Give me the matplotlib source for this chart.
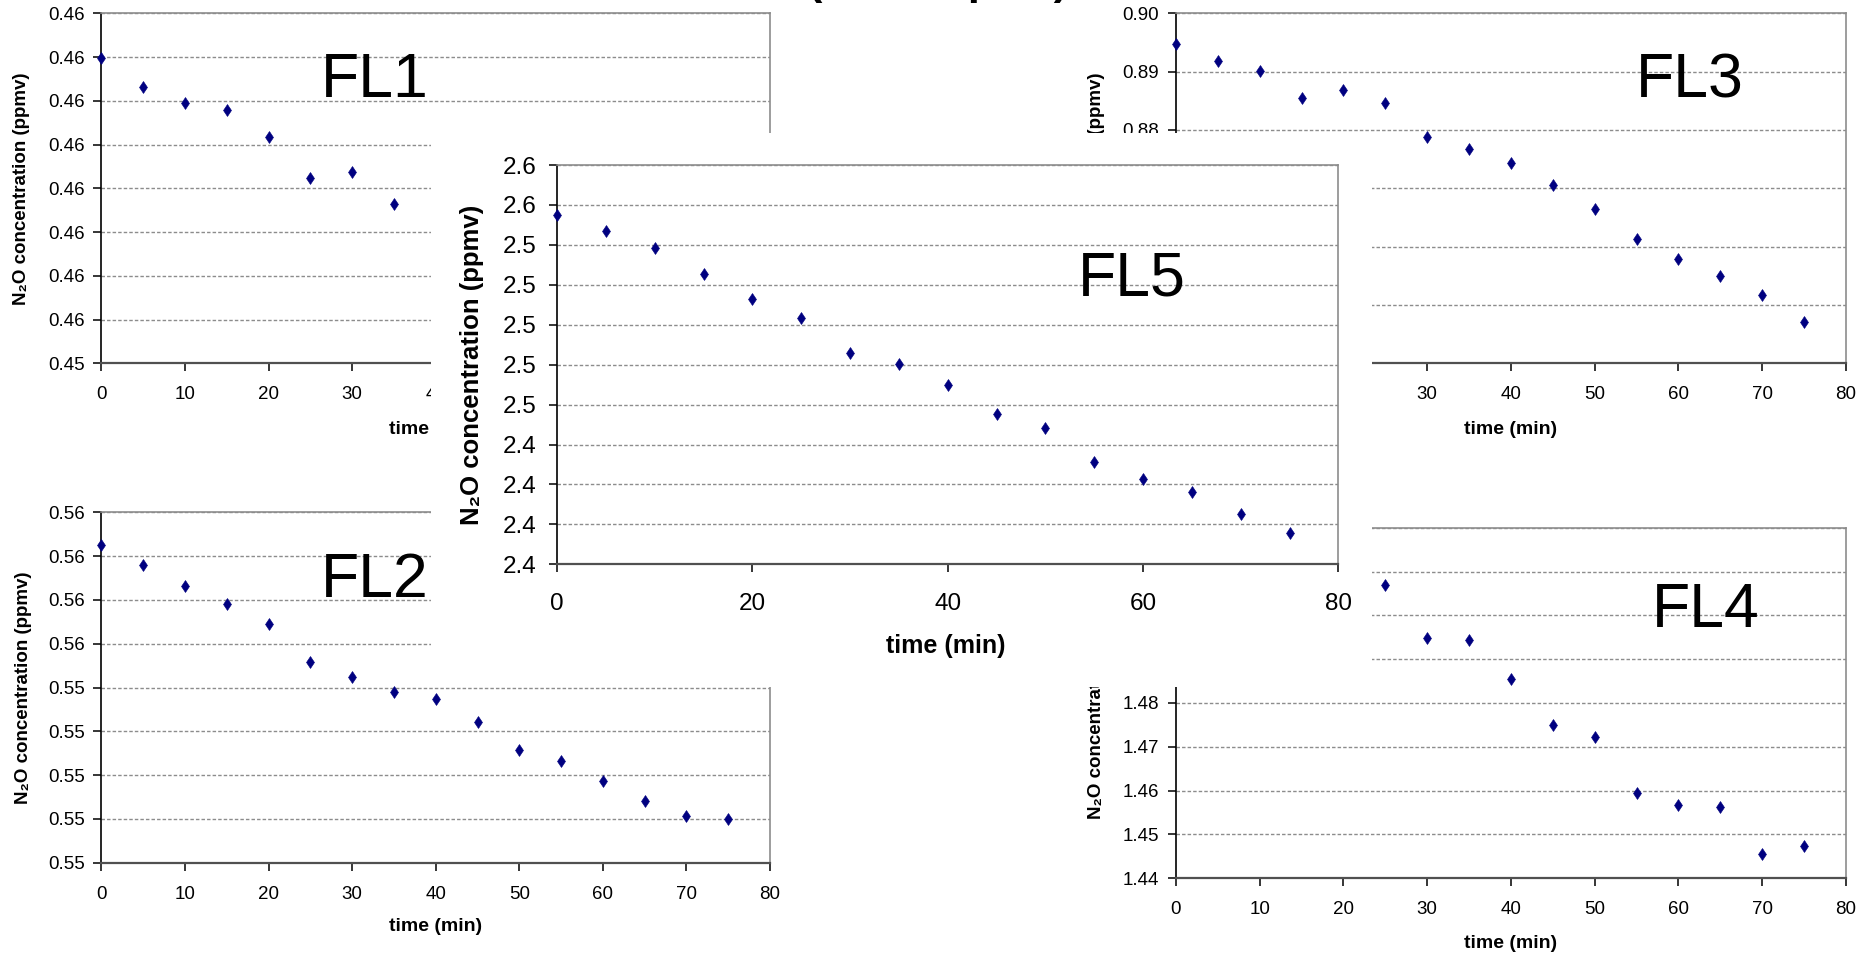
import numpy as np
import matplotlib
matplotlib.use("Agg")
import matplotlib.pyplot as plt

plt.rcParams['font.family'] = ['Liberation Sans', 'DejaVu Sans']

W, H = 1874, 955

# sample times (min)
TIME = [0, 5, 10, 15, 20, 25, 30, 35, 40, 45, 50, 55, 60, 65, 70, 75]

# FL1 / FL4: only the points that are not hidden behind the FL5 chart
FL1_TIME = [0, 5, 10, 15, 20, 25, 30, 35]
FL1_VALS = [0.45799, 0.45766, 0.45747, 0.45739, 0.45709, 0.45662, 0.45669, 0.45632]

FL2_VALS = [0.55613, 0.55590, 0.55566, 0.55545, 0.55523, 0.55479, 0.55462, 0.55445,
            0.55437, 0.55411, 0.55379, 0.55366, 0.55343, 0.55320, 0.55303, 0.55300]

FL3_VALS = [0.89467, 0.89181, 0.89009, 0.88550, 0.88682, 0.88470, 0.87880, 0.87673,
            0.87438, 0.87060, 0.86642, 0.86132, 0.85782, 0.85501, 0.85175, 0.84716]

FL4_TIME = [25, 30, 35, 40, 45, 50, 55, 60, 65, 70, 75]
FL4_VALS = [1.50694, 1.49488, 1.49434, 1.48554, 1.47491, 1.47218, 1.45951, 1.45670,
            1.45624, 1.44562, 1.44744]

FL5_VALS = [2.5552, 2.5467, 2.5384, 2.5254, 2.5130, 2.5032, 2.4858, 2.4805,
            2.4697, 2.4553, 2.4481, 2.4311, 2.4229, 2.4163, 2.4052, 2.3955]

# y ticks and the (rounded) labels the original shows
FL1_YTICKS = [0.4545, 0.4550, 0.4555, 0.4560, 0.4565, 0.4570, 0.4575, 0.4580, 0.4585]
FL1_YLABELS = ["0.45"] + ["0.46"] * 8
FL2_YTICKS = [0.5525, 0.5530, 0.5535, 0.5540, 0.5545, 0.5550, 0.5555, 0.5560, 0.5565]
FL2_YLABELS = ["0.55"] * 5 + ["0.56"] * 4
FL3_YTICKS = [0.84, 0.85, 0.86, 0.87, 0.88, 0.89, 0.90]
FL3_YLABELS = ["0.84", "0.85", "0.86", "0.87", "0.88", "0.89", "0.90"]
FL4_YTICKS = [1.44, 1.45, 1.46, 1.47, 1.48, 1.49, 1.50, 1.51, 1.52]
FL4_YLABELS = ["1.44", "1.45", "1.46", "1.47", "1.48", "1.49", "1.50", "1.51", "1.52"]
FL5_YTICKS = [2.38, 2.40, 2.42, 2.44, 2.46, 2.48, 2.50, 2.52, 2.54, 2.56, 2.58]
FL5_YLABELS = ["2.4"] * 4 + ["2.5"] * 5 + ["2.6"] * 2

XTICKS_SMALL = [0, 10, 20, 30, 40, 50, 60, 70, 80]
XTICKS_BIG = [0, 20, 40, 60, 80]

YLABEL = "N\u2082O concentration (ppmv)"
XLABEL = "time (min)"
MARKER_COLOR = "#000080"
GRID_COLOR = "#8c8c8c"


def rect(left, top, right, bottom):
    return [left / W, 1 - bottom / H, (right - left) / W, (bottom - top) / H]


def style_axes(ax, yticks, ylabels, xticks, big=False):
    ax.set_xlim(0, 80)
    ax.set_ylim(yticks[0], yticks[-1])
    ax.set_yticks(yticks)
    ax.set_yticklabels(ylabels)
    ax.set_xticks(xticks)
    for y in yticks[1:]:
        ax.axhline(y, color=GRID_COLOR, lw=1.0, ls=(0, (2.5, 1.5)), zorder=1)
    ax.spines["left"].set_color("black")
    ax.spines["left"].set_linewidth(1.2)
    ax.spines["bottom"].set_color("#505050")
    ax.spines["bottom"].set_linewidth(1.6)
    for s in ("top", "right"):
        ax.spines[s].set_color("#8c8c8c")
        ax.spines[s].set_linewidth(1.2)
    if big:
        ax.tick_params(axis="both", labelsize=17.5, length=5.5, width=1.1, direction="out")
        ax.tick_params(axis="x", pad=15)
        ax.tick_params(axis="y", pad=9)
    else:
        ax.tick_params(axis="both", labelsize=13.5, length=5.5, width=1.1, direction="out")
        ax.tick_params(axis="x", pad=11)
        ax.tick_params(axis="y", pad=6.5)


def small_chart(fig, box, x, y, yticks, ylabels, name, name_pos, ylab_x, xlab_y):
    ax = fig.add_axes(rect(*box))
    ax.set_zorder(1)
    style_axes(ax, yticks, ylabels, XTICKS_SMALL)
    ax.plot(x, y, "d", color=MARKER_COLOR, ms=6, mew=0.4, clip_on=False, zorder=3)
    ax.set_ylabel(YLABEL, fontsize=13.5, fontweight="bold", va="center")
    ax.yaxis.set_label_coords(ylab_x, 0.5)
    ax.set_xlabel(XLABEL, fontsize=14, fontweight="bold", va="center")
    ax.xaxis.set_label_coords(0.5, xlab_y)
    ax.text(name_pos[0], name_pos[1], name, transform=ax.transAxes,
            fontsize=45, ha="left", va="baseline")
    return ax


fig = plt.figure(figsize=(W / 100, H / 100), dpi=100)

small_chart(fig, (101.5, 13.3, 770, 363.3), FL1_TIME, FL1_VALS,
            FL1_YTICKS, FL1_YLABELS, "FL1", (0.328, 0.761), -0.1197, -0.19)
small_chart(fig, (101.5, 512.3, 770, 862.7), TIME, FL2_VALS,
            FL2_YTICKS, FL2_YLABELS, "FL2", (0.328, 0.758), -0.1167, -0.1835)
small_chart(fig, (1176, 13.3, 1846, 363.3), TIME, FL3_VALS,
            FL3_YTICKS, FL3_YLABELS, "FL3", (0.687, 0.758), -0.118, -0.19)
small_chart(fig, (1176, 527.7, 1846, 878.3), FL4_TIME, FL4_VALS,
            FL4_YTICKS, FL4_YLABELS, "FL4", (0.710, 0.717), -0.119, -0.185)

# white chart area of FL5 pasted over the others
bg = fig.add_axes(rect(431, 133, 1372, 687))
bg.set_zorder(2)
bg.set_facecolor("white")
bg.set_xticks([])
bg.set_yticks([])
for s in bg.spines.values():
    s.set_visible(False)

ax5 = fig.add_axes(rect(557, 165, 1338.5, 564.3))
ax5.set_zorder(3)
ax5.set_facecolor("none")
style_axes(ax5, FL5_YTICKS, FL5_YLABELS, XTICKS_BIG, big=True)
ax5.plot(TIME, FL5_VALS, "d", color=MARKER_COLOR, ms=6.5, mew=0.4, clip_on=False, zorder=3)
ax5.set_ylabel(YLABEL, fontsize=18.5, fontweight="bold", va="center")
ax5.yaxis.set_label_coords(-0.1088, 0.5)
ax5.set_xlabel(XLABEL, fontsize=18, fontweight="bold", va="center")
ax5.xaxis.set_label_coords(0.498, -0.2046)
ax5.text(0.667, 0.674, "FL5", transform=ax5.transAxes, fontsize=45,
         ha="left", va="baseline")

# figure title, mostly cut off at the top edge
fig.text(808 / W, 1 + 6 / H, "(all samples)", fontsize=31, fontweight="bold",
         ha="left", va="baseline", zorder=5)

fig.savefig("out.png", dpi=100)
